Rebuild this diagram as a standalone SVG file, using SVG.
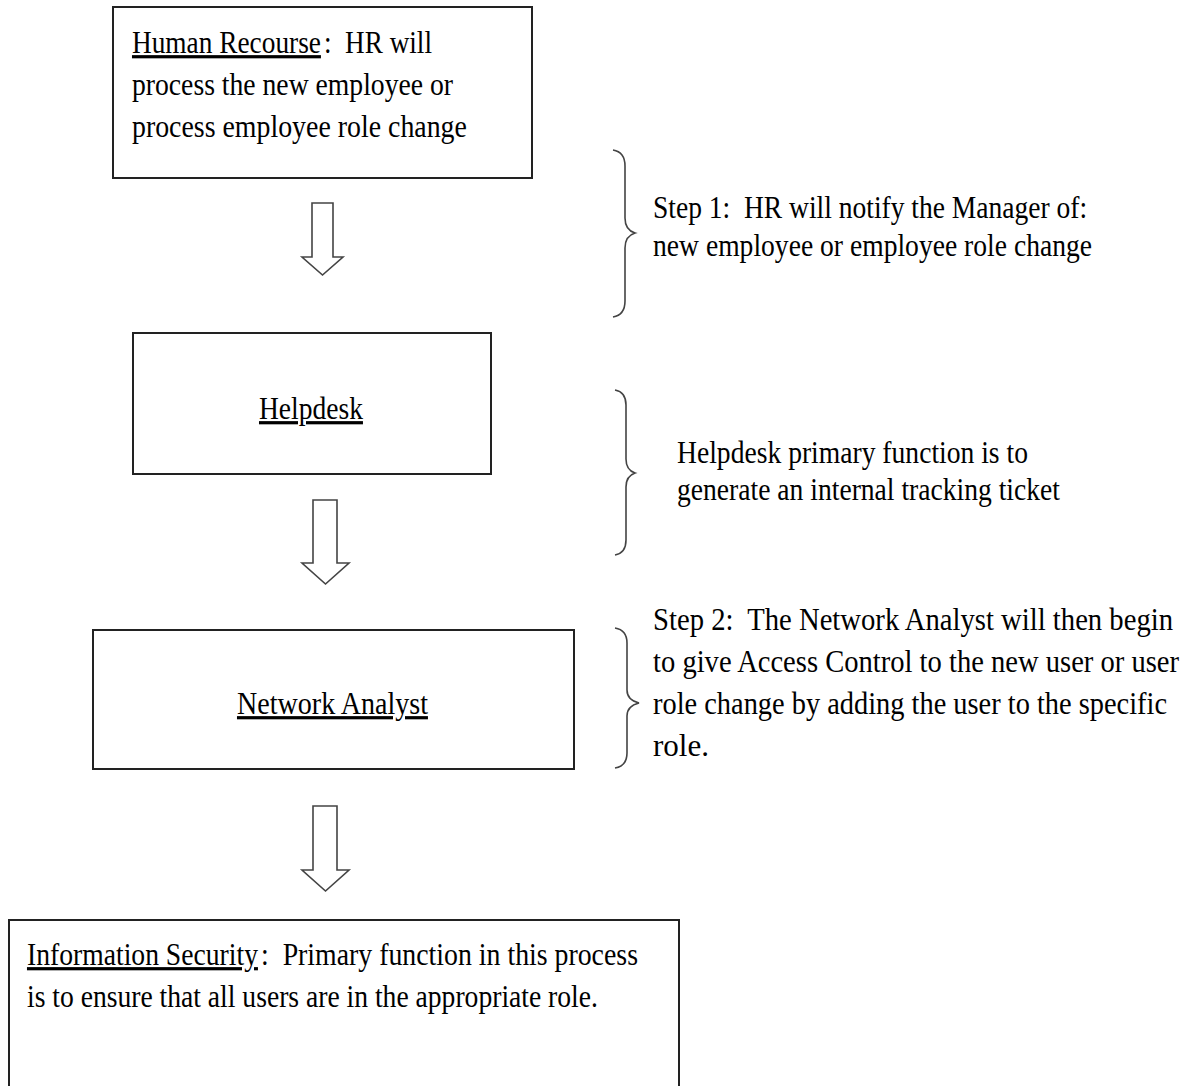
<svg xmlns="http://www.w3.org/2000/svg" width="1197" height="1086" viewBox="0 0 1197 1086">
<style>
.box{fill:#fff;stroke:#222;stroke-width:2}
.t{font-family:"Liberation Serif","Times New Roman",serif;font-size:32px;fill:#000}
.u{text-decoration:underline}
.arrow{fill:#fff;stroke:#444;stroke-width:1.6;stroke-linejoin:miter}
.brace{fill:none;stroke:#444;stroke-width:1.6}
</style>
<rect width="1197" height="1086" fill="#fff"/>
<g id="node-hr">
<rect class="box" x="113" y="7" width="419" height="171"/>
<g transform="scale(0.87 1)">
<text class="t u" x="151.7" y="53" textLength="217.2" lengthAdjust="spacingAndGlyphs">Human Recourse</text>
<text class="t" x="372.4" y="53" textLength="124.1" lengthAdjust="spacingAndGlyphs" xml:space="preserve">:  HR will</text>
<text class="t" x="151.7" y="95" textLength="369" lengthAdjust="spacingAndGlyphs">process the new employee or</text>
<text class="t" x="151.7" y="137" textLength="385" lengthAdjust="spacingAndGlyphs">process employee role change</text>
</g>
</g>
<g id="node-helpdesk">
<rect class="box" x="133" y="333" width="358" height="141"/>
<g transform="scale(0.87 1)">
<text class="t u" x="297.7" y="419" textLength="119.5" lengthAdjust="spacingAndGlyphs">Helpdesk</text>
</g>
</g>
<g id="node-network">
<rect class="box" x="93" y="630" width="481" height="139"/>
<g transform="scale(0.87 1)">
<text class="t u" x="272.4" y="714" textLength="219.5" lengthAdjust="spacingAndGlyphs">Network Analyst</text>
</g>
</g>
<g id="node-infosec">
<path class="box" d="M9,1090 V920 H679 V1090"/>
<g transform="scale(0.87 1)">
<text class="t u" x="31" y="965" textLength="265.5" lengthAdjust="spacingAndGlyphs">Information Security</text>
<text class="t" x="300" y="965" textLength="433.3" lengthAdjust="spacingAndGlyphs" xml:space="preserve">:  Primary function in this process</text>
<text class="t" x="31" y="1007" textLength="656.3" lengthAdjust="spacingAndGlyphs">is to ensure that all users are in the appropriate role.</text>
</g>
</g>
<g id="connectors">
<path class="arrow" d="M312,203 H333 V257 H343 L322.5,275 L302,257 H312 Z"/>
<path class="arrow" d="M313,500 H337 V563 H349 L325.5,584 L302,563 H313 Z"/>
<path class="arrow" d="M313,806 H337 V870 H349 L325.5,891 L302,870 H313 Z"/>
</g>
<g id="note-step1">
<path class="brace" d="M613,150 Q625,152 625,166 V218 Q625,230 635,233 Q625,236 625,248 V301 Q625,315 613,317"/>
<g transform="scale(0.87 1)">
<text class="t" x="750.6" y="218" textLength="498.9" lengthAdjust="spacingAndGlyphs" xml:space="preserve">Step 1:  HR will notify the Manager of:</text>
<text class="t" x="750.6" y="256" textLength="504.6" lengthAdjust="spacingAndGlyphs">new employee or employee role change</text>
</g>
</g>
<g id="note-helpdesk">
<path class="brace" d="M615,390 Q626,392 626,405 V459 Q626,470 635,473 Q626,476 626,487 V540 Q626,553 615,555"/>
<g transform="scale(0.87 1)">
<text class="t" x="778.2" y="463" textLength="403.4" lengthAdjust="spacingAndGlyphs">Helpdesk primary function is to</text>
<text class="t" x="778.2" y="500" textLength="440.2" lengthAdjust="spacingAndGlyphs">generate an internal tracking ticket</text>
</g>
</g>
<g id="note-step2">
<path class="brace" d="M615,628 Q627,630 627,643 V690 Q627,700 639,703 Q627,706 627,716 V753 Q627,766 615,768"/>
<g transform="scale(0.87 1)">
<text class="t" x="750.6" y="630" textLength="597.7" lengthAdjust="spacingAndGlyphs" xml:space="preserve">Step 2:  The Network Analyst will then begin</text>
<text class="t" x="750.6" y="672" textLength="604.6" lengthAdjust="spacingAndGlyphs">to give Access Control to the new user or user</text>
<text class="t" x="750.6" y="714" textLength="590.8" lengthAdjust="spacingAndGlyphs">role change by adding the user to the specific</text>
<text class="t" x="750.6" y="756" textLength="64.4" lengthAdjust="spacingAndGlyphs">role.</text>
</g>
</g>
</svg>
